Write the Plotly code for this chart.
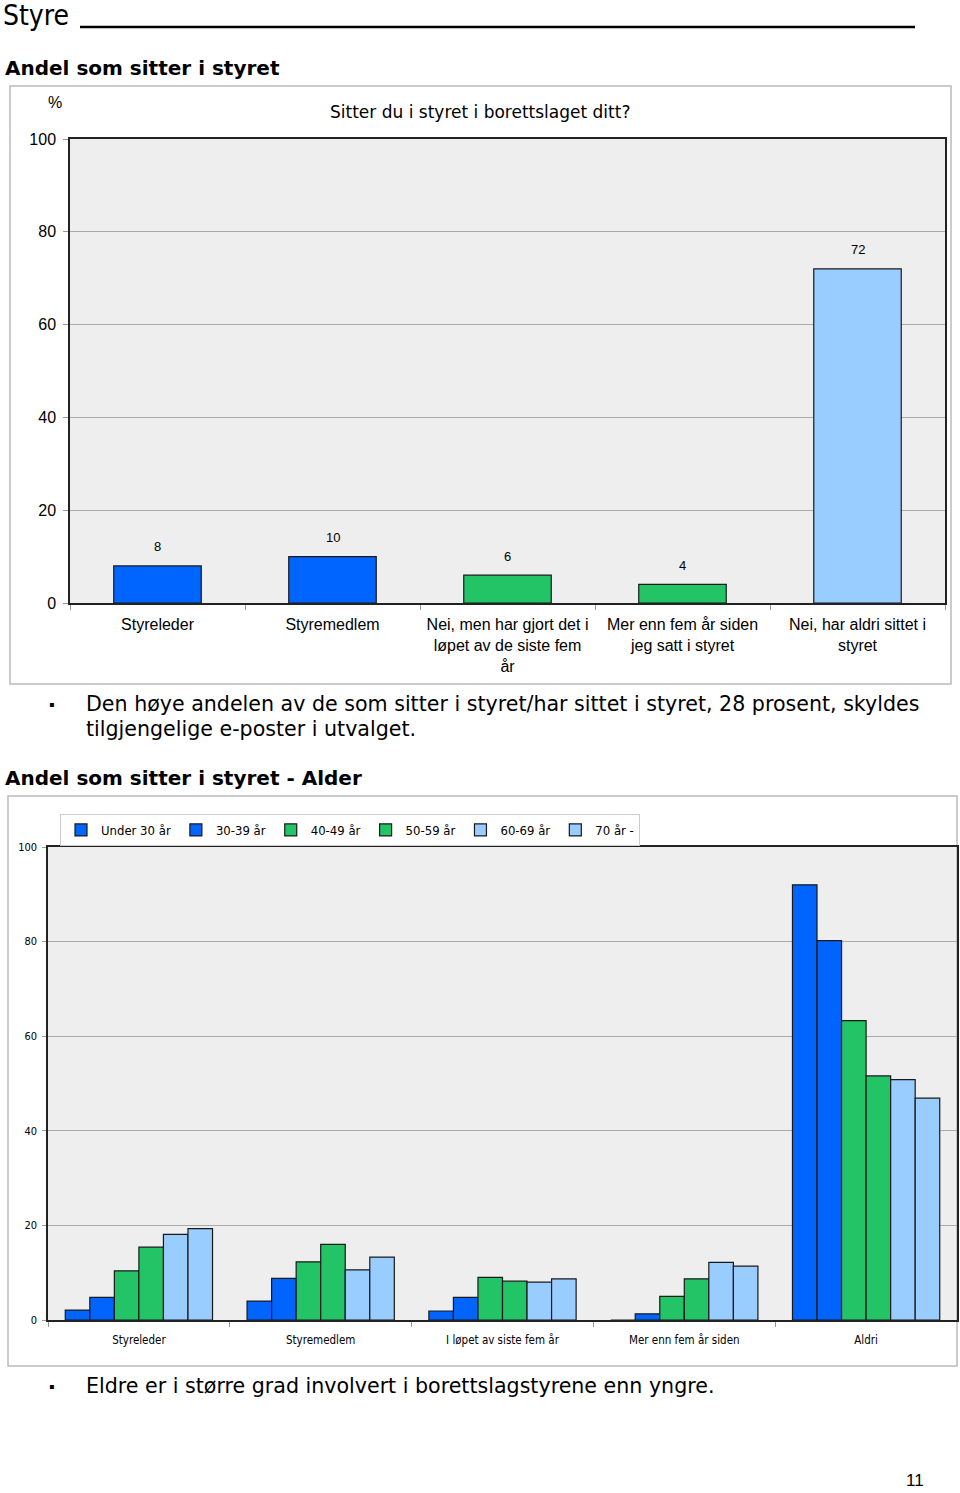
import plotly.graph_objects as go

W, H = 960, 1493

# ---- data: chart 1 ----
cat1 = ["Styreleder", "Styremedlem",
        "Nei, men har gjort det i<br>løpet av de siste fem<br>år",
        "Mer enn fem år siden<br>jeg satt i styret",
        "Nei, har aldri sittet i<br>styret"]
val1 = [8, 10, 6, 4, 72]

# ---- data: chart 2 ----
cat2 = ["Styreleder", "Styremedlem", "I løpet av siste fem år", "Mer enn fem år siden", "Aldri"]
age_groups = ["Under 30 år", "30-39 år", "40-49 år", "50-59 år", "60-69 år", "70 år -"]
under30 = [2.1, 4.0, 1.9, 0.0, 92.0]
a30_39 = [4.8, 8.8, 4.8, 1.3, 80.2]
a40_49 = [10.4, 12.3, 9.0, 5.0, 63.3]
a50_59 = [15.4, 16.0, 8.2, 8.7, 51.6]
a60_69 = [18.1, 10.6, 8.0, 12.2, 50.8]
a70 = [19.3, 13.3, 8.7, 11.4, 46.9]
age_vals = [under30, a30_39, a40_49, a50_59, a60_69, a70]

yticks = [0, 20, 40, 60, 80, 100]

BLUE = "#0064FF"
GREEN = "#22C466"
LIGHT = "#99CCFF"
col1 = [BLUE, BLUE, GREEN, GREEN, LIGHT]
col2 = [BLUE, BLUE, GREEN, GREEN, LIGHT, LIGHT]

SANS = "Liberation Sans, Arial, sans-serif"
WIDE = "DejaVu Sans, Verdana, sans-serif"
NARROW = "Liberation Sans Narrow, Arial Narrow, DejaVu Sans Condensed, sans-serif"


def px(x):
    return x / W


def py(y):
    return 1 - y / H


fig = go.Figure()

fig.add_trace(go.Bar(
    x=cat1, y=val1, width=0.5, xaxis="x", yaxis="y",
    marker=dict(color=col1, line=dict(color="#1a1a1a", width=1.2)),
    showlegend=False, hoverinfo="skip"))

for name, vals, c in zip(age_groups, age_vals, col2):
    fig.add_trace(go.Bar(
        x=cat2, y=vals, name=name, xaxis="x2", yaxis="y2",
        marker=dict(color=c, line=dict(color="#1a1a1a", width=1.2))))

annotations = []
for c, v in zip(cat1, val1):
    annotations.append(dict(x=c, y=v, xref="x", yref="y", text=str(v), showarrow=False,
                            yshift=19, font=dict(family=SANS, size=13, color="#000")))


def ann(x, y, text, size, bold=False, family=SANS, xanchor="left", yanchor="middle", color="#000"):
    t = f"<b>{text}</b>" if bold else text
    annotations.append(dict(x=px(x), y=py(y), xref="paper", yref="paper", text=t, showarrow=False,
                            xanchor=xanchor, yanchor=yanchor,
                            font=dict(family=family, size=size, color=color)))


ann(1, 16, "Styre", 28, family=NARROW)
ann(3, 68, "Andel som sitter i styret", 20, bold=True, family=WIDE)
ann(480, 112, "Sitter du i styret i borettslaget ditt?", 17, xanchor="center", family=WIDE)
ann(55, 102, "%", 16, xanchor="center")
ann(52, 704, "▪", 16, xanchor="center")
ann(84, 704, "Den høye andelen av de som sitter i styret/har sittet i styret, 28 prosent, skyldes", 20.6, family=WIDE)
ann(84, 729, "tilgjengelige e-poster i utvalget.", 20.6, family=WIDE)
ann(3, 778, "Andel som sitter i styret - Alder", 20, bold=True, family=WIDE)
ann(52, 1386, "▪", 16, xanchor="center")
ann(84, 1386, "Eldre er i større grad involvert i borettslagstyrene enn yngre.", 20.6, family=WIDE)
ann(915, 1480, "11", 17, xanchor="center")

shapes = [
    dict(type="line", xref="paper", yref="paper", x0=px(80), x1=px(915), y0=py(27), y1=py(27),
         line=dict(color="#000", width=2.5)),
    dict(type="rect", xref="paper", yref="paper", x0=px(10), x1=px(951), y0=py(86), y1=py(684),
         line=dict(color="#BBBBBB", width=1.5), layer="below"),
    dict(type="rect", xref="paper", yref="paper", x0=px(8), x1=px(957), y0=py(796), y1=py(1366),
         line=dict(color="#BBBBBB", width=1.5), layer="below"),
]

axis_common = dict(showline=True, linecolor="#222", linewidth=1.5, mirror=True, automargin=False)

fig.update_layout(
    width=W, height=H, margin=dict(l=0, r=0, t=0, b=0, pad=0, autoexpand=False),
    paper_bgcolor="white", plot_bgcolor="#EEEEEE",
    barmode="group", bargap=0.19, bargroupgap=0,
    annotations=annotations, shapes=shapes,
    xaxis=dict(domain=[px(70), px(945)], anchor="y", ticks="outside", tickson="boundaries",
               ticklen=5, tickcolor="#999", showgrid=False, ticklabelstandoff=6,
               tickfont=dict(family=SANS, size=16, color="#000"), **axis_common),
    yaxis=dict(domain=[py(603), py(139)], anchor="x", range=[0, 100], tickvals=yticks,
               ticks="outside", ticklen=5, tickcolor="#999", showgrid=True, gridcolor="#AAAAAA",
               gridwidth=1, zeroline=False, ticklabelstandoff=4,
               tickfont=dict(family=SANS, size=16, color="#000"), **axis_common),
    xaxis2=dict(domain=[px(48), px(957)], anchor="y2", ticks="outside", tickson="boundaries",
                ticklen=5, tickcolor="#999", showgrid=False, ticklabelstandoff=8,
                tickfont=dict(family=NARROW, size=11.5, color="#000"), **axis_common),
    yaxis2=dict(domain=[py(1320), py(847)], anchor="x2", range=[0, 100], tickvals=yticks,
                ticks="outside", ticklen=4, tickcolor="#999", showgrid=True, gridcolor="#AAAAAA",
                gridwidth=1, zeroline=False, ticklabelstandoff=3,
                tickfont=dict(family=NARROW, size=11, color="#000"), **axis_common),
    legend=dict(orientation="h", x=px(60), y=py(814), xanchor="left", yanchor="top",
                bgcolor="white", bordercolor="#CCCCCC", borderwidth=1,
                font=dict(family=NARROW, size=13, color="#000"),
                itemwidth=30, traceorder="normal"),
)

fig.write_html("out.html", config={"displayModeBar": False},
               post_script="document.body.style.margin='0px';")
